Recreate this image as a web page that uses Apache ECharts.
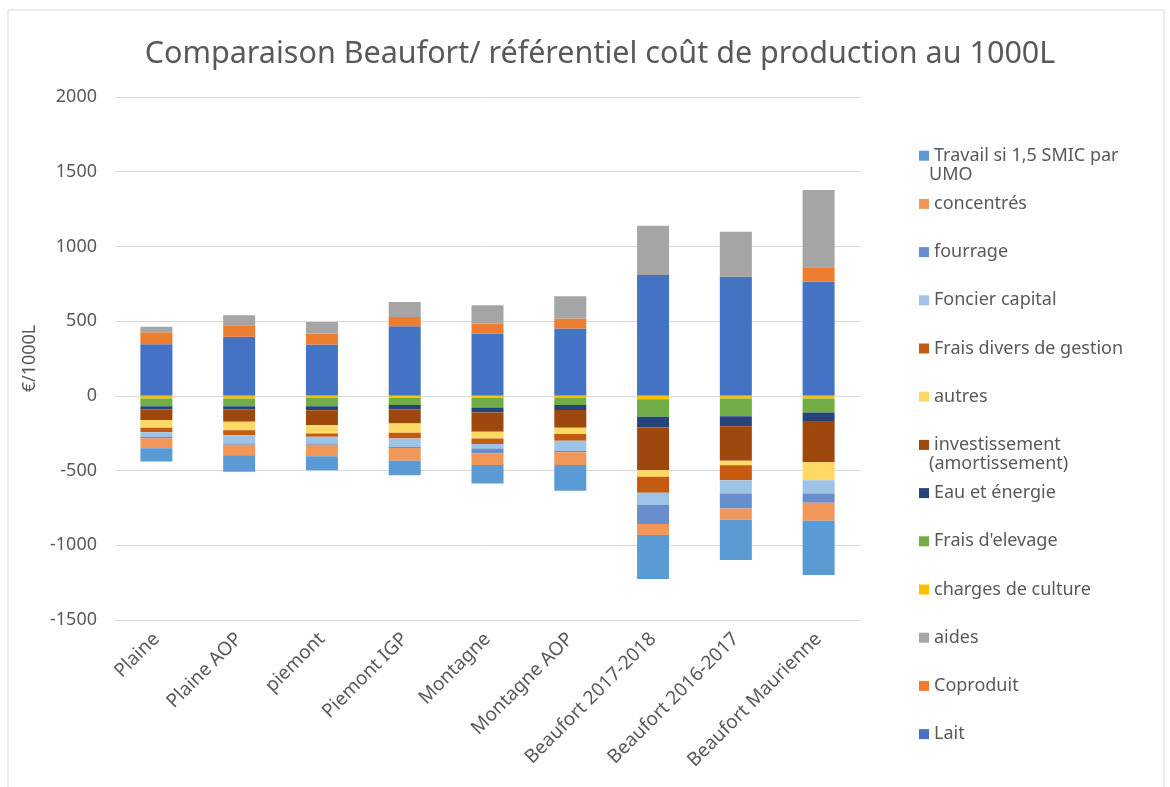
<!DOCTYPE html>
<html>
<head>
<meta charset="utf-8">
<script src="https://cdn.jsdelivr.net/npm/echarts@6/dist/echarts.min.js"></script>
<style>
  html, body { margin: 0; padding: 0; background: #fff; }
  #chart { width: 1170px; height: 787px; }
</style>
</head>
<body>
<div id="chart"></div>
<script>
var categories = ['Plaine', 'Plaine AOP', 'piemont', 'Piemont IGP', 'Montagne', 'Montagne AOP',
    'Beaufort 2017-2018', 'Beaufort 2016-2017', 'Beaufort Maurienne'];

// produits (positifs)
var lait           = [345, 395, 343, 466, 417, 450, 808, 797, 763];
var coproduit      = [80, 78, 74, 62, 67, 67, 0, 0, 97];
var aides          = [38, 67, 78, 100, 123, 149, 330, 301, 517];
// charges (negatives)
var chargesCulture = [-18, -18, -11, -13, -13, -11, -22, -18, -18];
var fraisElevage   = [-51, -51, -58, -49, -65, -51, -118, -118, -94];
var eauEnergie     = [-22, -22, -27, -29, -33, -33, -71, -67, -56];
var investissement = [-71, -83, -100, -94, -129, -118, -285, -232, -274];
var autres         = [-51, -56, -56, -62, -45, -42, -45, -29, -123];
var fraisDivers    = [-31, -33, -22, -38, -38, -45, -107, -100, 0];
var foncier        = [-29, -56, -45, -56, -29, -67, -83, -89, -89];
var fourrage       = [-10, -8, -8, -8, -33, -10, -127, -100, -62];
var concentres     = [-68, -70, -77, -86, -78, -86, -74, -74, -120];
var travail        = [-89, -111, -94, -96, -123, -172, -294, -272, -363];

var seriesDefs = [
    ['Lait', lait, '#4472C4'],
    ['Coproduit', coproduit, '#ED7D31'],
    ['aides', aides, '#A5A5A5'],
    ['charges de culture', chargesCulture, '#FFC000'],
    ["Frais d'elevage", fraisElevage, '#70AD47'],
    ['Eau et énergie', eauEnergie, '#264478'],
    ['investissement (amortissement)', investissement, '#9E480E'],
    ['autres', autres, '#FFD966'],
    ['Frais divers de gestion', fraisDivers, '#C55A11'],
    ['Foncier capital', foncier, '#9DC3E6'],
    ['fourrage', fourrage, '#698ED0'],
    ['concentrés', concentres, '#F1975A'],
    ['Travail si 1,5 SMIC par UMO', travail, '#5B9BD5']
];

// legend names that wrap: first line in the legend, rest as extra text
var legendWrap = {
    'Travail si 1,5 SMIC par UMO': ['Travail si 1,5 SMIC par', 'UMO'],
    'investissement (amortissement)': ['investissement', '(amortissement)']
};

var txt = '#595959';
var font = 'Noto Sans';
var legendFirst = 150.7, legendStep = 48.2;

var series = seriesDefs.map(function (d) {
    return {
        name: d[0],
        type: 'bar',
        stack: 'total',
        barWidth: 32,
        data: d[1],
        itemStyle: {color: d[2]}
    };
});

// one legend per item, top to bottom in reverse series order (as in Excel)
var legends = [];
var graphics = [{
    type: 'rect',
    shape: {x: 8, y: 10, width: 1156, height: 790},
    style: {fill: 'none', stroke: '#d9d9d9', lineWidth: 1}
}];
for (var i = 0; i < seriesDefs.length; i++) {
    var name = seriesDefs[seriesDefs.length - 1 - i][0];
    var cy = legendFirst + i * legendStep;
    legends.push({
        orient: 'vertical',
        left: 914,
        top: cy - 10,
        itemWidth: 10,
        itemHeight: 10,
        icon: 'rect',
        data: [name],
        formatter: function (n) { return legendWrap[n] ? legendWrap[n][0] : n; },
        textStyle: {color: txt, fontFamily: font, fontSize: 18, lineHeight: 20}
    });
    if (legendWrap[name]) {
        graphics.push({
            type: 'text',
            left: 929,
            top: cy + 26 - 11,
            style: {text: legendWrap[name][1], fill: txt, font: '18px "Noto Sans"'}
        });
    }
}

var myChart = echarts.init(document.getElementById('chart'));
var option = {
    backgroundColor: '#fff',
    animation: false,
    title: {
        text: 'Comparaison Beaufort/ référentiel coût de production au 1000L',
        left: 595,
        top: 34,
        textAlign: 'center',
        textStyle: {color: txt, fontFamily: font, fontSize: 30.5, fontWeight: 'normal'}
    },
    graphic: graphics,
    legend: legends,
    grid: {left: 115, right: 310, top: 97, bottom: 167},
    xAxis: {
        type: 'category',
        data: categories,
        axisLine: {onZero: false, show: true, lineStyle: {color: '#d9d9d9'}},
        axisTick: {show: false},
        axisLabel: {rotate: 45, color: txt, fontFamily: font, fontSize: 19, margin: 16, interval: 0}
    },
    yAxis: {
        type: 'value',
        min: -1500,
        max: 2000,
        interval: 500,
        name: '€/1000L',
        nameLocation: 'middle',
        nameGap: 75,
        nameTextStyle: {color: txt, fontFamily: font, fontSize: 18},
        axisLine: {show: false},
        axisTick: {show: false},
        axisLabel: {
            color: txt, fontFamily: font, fontSize: 18, margin: 18,
            formatter: function (v) { return String(v); }
        },
        splitLine: {lineStyle: {color: '#d9d9d9'}}
    },
    series: series
};
myChart.setOption(option);
</script>
</body>
</html>
